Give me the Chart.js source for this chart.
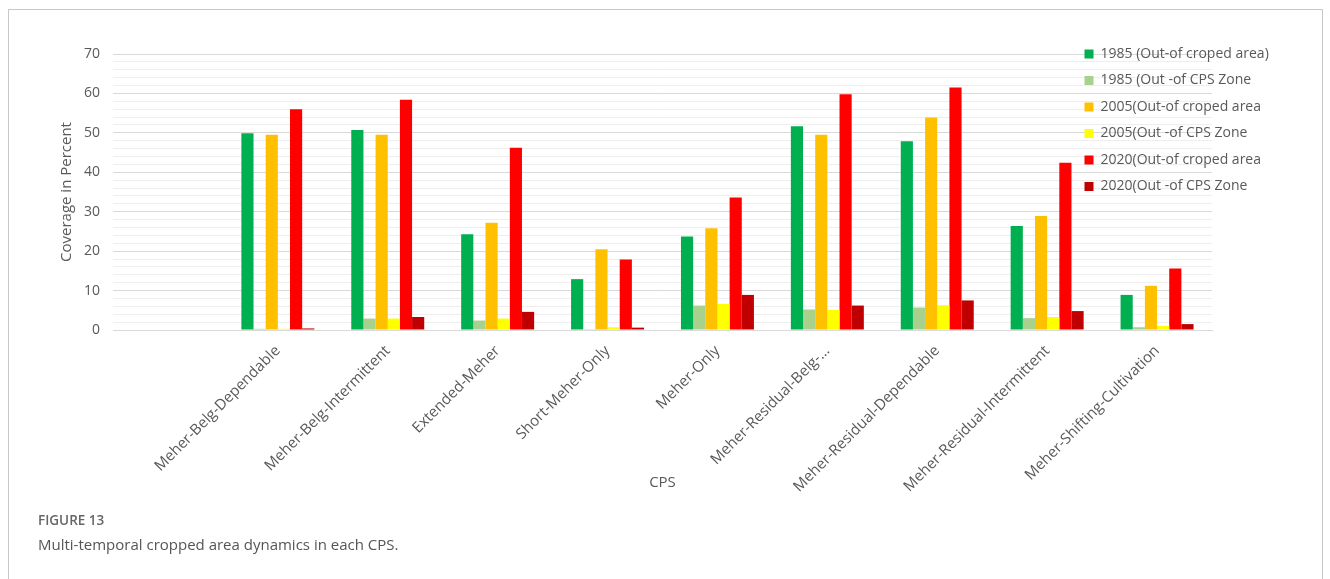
<!DOCTYPE html>
<html>
<head>
<meta charset="utf-8">
<script src="https://cdn.jsdelivr.net/npm/chart.js@4.4.1/dist/chart.umd.min.js"></script>
<style>
    body { margin: 0; background: #fff; width: 1330px; height: 579px; overflow: hidden; position: relative; font-family: "Open Sans", sans-serif; }
    #marco { position: absolute; left: 8px; top: 9px; width: 1313px; height: 620px; border: 1px solid #c8c8c8; }
    #grafica { position: absolute; left: 0; top: 0; }
    #figura { position: absolute; left: 38px; top: 511px; font-size: 13.5px; line-height: 18px; font-weight: 600; color: #666; }
    #leyenda { position: absolute; left: 38px; top: 534px; font-size: 15px; line-height: 20px; color: #555; }
</style>
</head>
<body>
<div id="marco"></div>
<canvas id="grafica" width="1330" height="579"></canvas>
<div id="figura">FIGURE 13</div>
<div id="leyenda">Multi-temporal cropped area dynamics in each CPS.</div>

<script>
// Categorias (CPS)
const categorias = ['Meher-Belg-Dependable', 'Meher-Belg-Intermittent', 'Extended-Meher', 'Short-Meher-Only',
    'Meher-Only', 'Meher-Residual-Belg-...', 'Meher-Residual-Dependable', 'Meher-Residual-Intermittent',
    'Meher-Shifting-Cultivation'];

// Series (porcentaje de cobertura)
const cultivo1985 = [49.9, 50.7, 24.3, 12.9, 23.7, 51.7, 47.9, 26.4, 8.9];
const zona1985 = [0.3, 2.9, 2.4, 0.2, 6.2, 5.2, 5.7, 3.0, 0.7];
const cultivo2005 = [49.5, 49.5, 27.2, 20.5, 25.8, 49.5, 53.9, 28.9, 11.2];
const zona2005 = [0.3, 2.9, 2.9, 0.7, 6.6, 5.1, 6.3, 3.3, 1.0];
const cultivo2020 = [56.0, 58.4, 46.2, 17.9, 33.6, 59.8, 61.5, 42.4, 15.6];
const zona2020 = [0.4, 3.3, 4.6, 0.6, 8.9, 6.2, 7.5, 4.8, 1.5];

const nombresSeries = ['1985 (Out-of croped area)', '1985 (Out -of CPS Zone', '2005(Out-of croped area',
    '2005(Out -of CPS Zone', '2020(Out-of croped area', '2020(Out -of CPS Zone'];
const coloresSeries = ['#00B050', '#A9D18E', '#FFC000', '#FFFF00', '#FF0000', '#C00000'];

// Eje Y: etiquetas cada 10, lineas menores cada 2
const ticksY = [0, 10, 20, 30, 40, 50, 60, 70];
const pasoMenor = 2;

// El grafico original deja una categoria vacia al inicio
const etiquetas = [''].concat(categorias);
const series = [cultivo1985, zona1985, cultivo2005, zona2005, cultivo2020, zona2020];

const gris = '#595959';

// Mueve la leyenda sobre el area del grafico (arriba a la derecha)
const moverLeyenda = {
    id: 'moverLeyenda',
    beforeDraw(chart) {
        const lg = chart.legend;
        lg.left = 1072;
        lg.right = 1330;
        lg.top = 34.5;
        lg.bottom = 330;
    }
};

const ctx = document.getElementById('grafica').getContext('2d');
const grafica = new Chart(ctx, {
    type: 'bar',
    data: {
        labels: etiquetas,
        datasets: series.map((valores, i) => ({
            label: nombresSeries[i],
            data: [null].concat(valores),
            backgroundColor: coloresSeries[i],
            borderWidth: 0,
            categoryPercentage: 0.664,
            barPercentage: 1.0
        }))
    },
    options: {
        responsive: false,
        devicePixelRatio: 1,
        animation: false,
        layout: { padding: { left: 0, top: 54, right: 118, bottom: 0 } },
        scales: {
            x: {
                grid: { display: false },
                border: { color: '#d9d9d9', width: 1 },
                ticks: {
                    color: gris,
                    font: { family: 'Open Sans', size: 15 },
                    minRotation: 45,
                    maxRotation: 45,
                    autoSkip: false,
                    padding: 4
                },
                title: {
                    display: true,
                    text: 'CPS',
                    color: gris,
                    font: { family: 'Open Sans', size: 15 },
                    padding: { top: 0, bottom: 87 }
                },
                afterFit: (escala) => { escala.height = 249; }
            },
            y: {
                min: 0,
                max: 70,
                grid: {
                    drawTicks: false,
                    color: (c) => (c.tick && c.tick.value % 10 === 0) ? '#d9d9d9' : '#eeeeee',
                    lineWidth: 1
                },
                border: { display: false },
                ticks: {
                    color: gris,
                    font: { family: 'Open Sans', size: 14 },
                    padding: 13,
                    autoSkip: false,
                    callback: (v) => ticksY.includes(v) ? v : ''
                },
                afterBuildTicks: (escala) => {
                    const lista = [];
                    for (let v = ticksY[0]; v <= ticksY[ticksY.length - 1]; v += pasoMenor) lista.push({ value: v });
                    escala.ticks = lista;
                },
                title: {
                    display: true,
                    text: 'Coverage in Percent',
                    color: gris,
                    font: { family: 'Open Sans', size: 15 },
                    padding: { top: 58, bottom: 0 }
                },
                afterFit: (escala) => { escala.width = 113; }
            }
        },
        plugins: {
            legend: {
                position: 'chartArea',
                align: 'start',
                labels: {
                    boxWidth: 9,
                    boxHeight: 9,
                    padding: 12.5,
                    color: gris,
                    font: { family: 'Open Sans', size: 14 }
                }
            },
            tooltip: { enabled: false }
        }
    },
    plugins: [moverLeyenda]
});
</script>
</body>
</html>
